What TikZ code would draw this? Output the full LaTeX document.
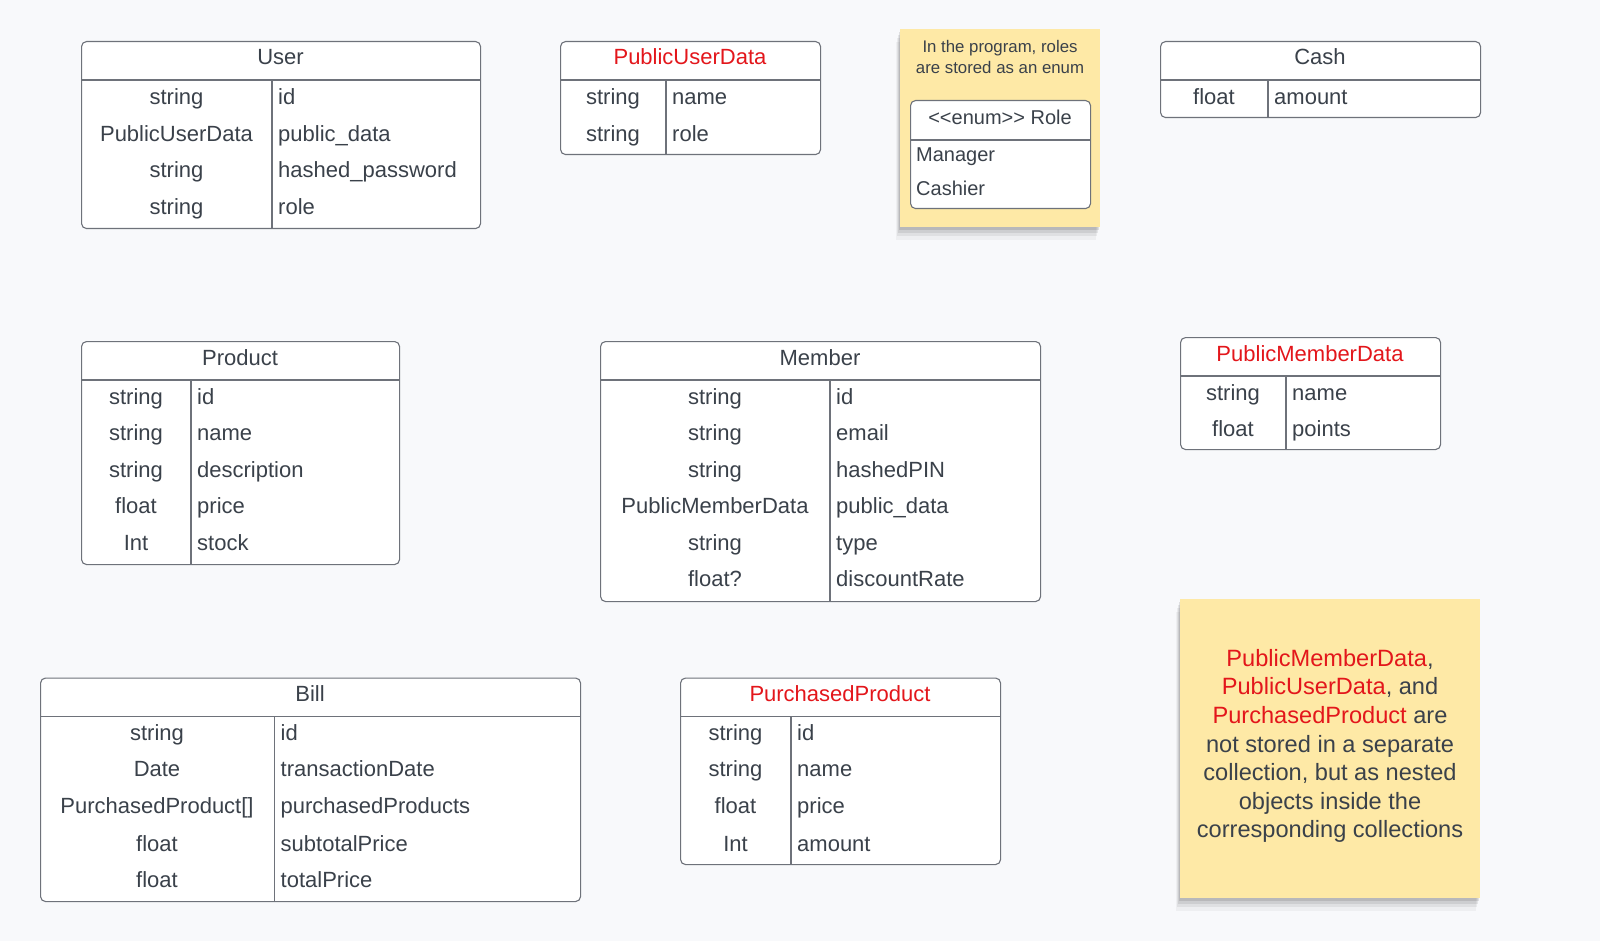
\documentclass[tikz,border=0pt]{standalone}
\usepackage{fontspec}
\usepackage{tikz}
\usetikzlibrary{shadows}
\newfontfamily\lucid{Liberation Sans}
\newcommand{\cellfont}{\lucid\fontsize{22}{26}\selectfont}
\newcommand{\smallnote}{\lucid\fontsize{16.8}{20.4}\selectfont}
\newcommand{\enumfont}{\lucid\fontsize{20}{24}\selectfont}
\newcommand{\bignote}{\lucid\fontsize{23.6}{28.6}\selectfont}
\definecolor{bgcol}{HTML}{F8F9FB}
\definecolor{ink}{HTML}{3A414A}
\definecolor{edge}{HTML}{6E727A}
\definecolor{redtxt}{HTML}{E3161B}
\definecolor{notecol}{HTML}{FEE9A6}
\begin{document}
\begin{tikzpicture}[x=1pt, y=-1pt,
  frame/.style = {draw=edge, fill=white, rounded corners=5pt, line width=1.1pt, anchor=north west, inner sep=0pt},
  rule/.style = {draw=edge, line width=1.1pt},
  title/.style = {anchor=base, font=\cellfont, text=ink, inner sep=0pt},
  ftype/.style = {anchor=base, font=\cellfont, text=ink, inner sep=0pt},
  fname/.style = {anchor=base west, font=\cellfont, text=ink, inner sep=0pt},
  note/.style = {fill=notecol, anchor=north west, inner sep=0pt,
    drop shadow={shadow xshift=-1pt, shadow yshift=-3pt, opacity=.10, fill=black},
    drop shadow={shadow xshift=-2pt, shadow yshift=-6pt, opacity=.08, fill=black},
    drop shadow={shadow xshift=-3pt, shadow yshift=-9pt, opacity=.06, fill=black},
    drop shadow={shadow xshift=-4pt, shadow yshift=-13pt, opacity=.04, fill=black}}]
\path[fill=bgcol, use as bounding box] (0,0) rectangle (1600,941);

\node[frame, minimum width=399pt, minimum height=187pt] (user) at (81,41) {};
\node[title] (userT) at (280.5,65) {User};
\draw[rule] (user.west |- 0,80) -- (user.east |- 0,80);
\draw[rule] (272,80) -- (user.south -| 272,0);
\node[ftype] (user1t) at (176.5,105) {string};
\node[fname] (user1n) at (278,105) {id};
\node[ftype] (user2t) at (176.5,141.5) {PublicUserData};
\node[fname] (user2n) at (278,141.5) {public\_data};
\node[ftype] (user3t) at (176.5,178) {string};
\node[fname] (user3n) at (278,178) {hashed\_password};
\node[ftype] (user4t) at (176.5,214.5) {string};
\node[fname] (user4n) at (278,214.5) {role};

\node[frame, minimum width=260pt, minimum height=113pt] (pud) at (560,41) {};
\node[title, text=redtxt] (pudT) at (690,65) {PublicUserData};
\draw[rule] (pud.west |- 0,80) -- (pud.east |- 0,80);
\draw[rule] (666,80) -- (pud.south -| 666,0);
\node[ftype] (pud1t) at (613,105) {string};
\node[fname] (pud1n) at (672,105) {name};
\node[ftype] (pud2t) at (613,141.5) {string};
\node[fname] (pud2n) at (672,141.5) {role};

\node[note, minimum width=200pt, minimum height=198pt] (roleNote) at (900,28.5) {};
\node[font=\smallnote, text=ink, align=center, inner sep=0pt] (roleText) at (1000,57) {In the program, roles\\are stored as an enum};
\node[frame, minimum width=180pt, minimum height=108pt] (role) at (910,100) {};
\node[title, font=\enumfont] (roleT) at (1000,124.5) {<<enum>> Role};
\draw[rule] (role.west |- 0,140) -- (role.east |- 0,140);
\node[fname, font=\enumfont] (role1) at (916,161.5) {Manager};
\node[fname, font=\enumfont] (role2) at (916,195.5) {Cashier};

\node[frame, minimum width=320pt, minimum height=76pt] (cash) at (1160,41) {};
\node[title] (cashT) at (1320,65) {Cash};
\draw[rule] (cash.west |- 0,80) -- (cash.east |- 0,80);
\draw[rule] (1268,80) -- (cash.south -| 1268,0);
\node[ftype] (cash1t) at (1214,105) {float};
\node[fname] (cash1n) at (1274,105) {amount};

\node[frame, minimum width=318pt, minimum height=223pt] (prod) at (81,341) {};
\node[title] (prodT) at (240,365) {Product};
\draw[rule] (prod.west |- 0,380) -- (prod.east |- 0,380);
\draw[rule] (191,380) -- (prod.south -| 191,0);
\node[ftype] (prod1t) at (136,404) {string};
\node[fname] (prod1n) at (197,404) {id};
\node[ftype] (prod2t) at (136,440.5) {string};
\node[fname] (prod2n) at (197,440.5) {name};
\node[ftype] (prod3t) at (136,477) {string};
\node[fname] (prod3n) at (197,477) {description};
\node[ftype] (prod4t) at (136,513.5) {float};
\node[fname] (prod4n) at (197,513.5) {price};
\node[ftype] (prod5t) at (136,550) {Int};
\node[fname] (prod5n) at (197,550) {stock};

\node[frame, minimum width=440pt, minimum height=260pt] (mem) at (600,341) {};
\node[title] (memT) at (820,365) {Member};
\draw[rule] (mem.west |- 0,380) -- (mem.east |- 0,380);
\draw[rule] (830,380) -- (mem.south -| 830,0);
\node[ftype] (mem1t) at (715,404) {string};
\node[fname] (mem1n) at (836,404) {id};
\node[ftype] (mem2t) at (715,440.5) {string};
\node[fname] (mem2n) at (836,440.5) {email};
\node[ftype] (mem3t) at (715,477) {string};
\node[fname] (mem3n) at (836,477) {hashedPIN};
\node[ftype] (mem4t) at (715,513.5) {PublicMemberData};
\node[fname] (mem4n) at (836,513.5) {public\_data};
\node[ftype] (mem5t) at (715,550) {string};
\node[fname] (mem5n) at (836,550) {type};
\node[ftype] (mem6t) at (715,586.5) {float?};
\node[fname] (mem6n) at (836,586.5) {discountRate};

\node[frame, minimum width=260pt, minimum height=112pt] (pmd) at (1180,337) {};
\node[title, text=redtxt] (pmdT) at (1310,361) {PublicMemberData};
\draw[rule] (pmd.west |- 0,376) -- (pmd.east |- 0,376);
\draw[rule] (1286,376) -- (pmd.south -| 1286,0);
\node[ftype] (pmd1t) at (1233,400) {string};
\node[fname] (pmd1n) at (1292,400) {name};
\node[ftype] (pmd2t) at (1233,436.5) {float};
\node[fname] (pmd2n) at (1292,436.5) {points};

\node[frame, minimum width=540pt, minimum height=223.5pt] (bill) at (40,677.5) {};
\node[title] (billT) at (310,701.5) {Bill};
\draw[rule] (bill.west |- 0,716.5) -- (bill.east |- 0,716.5);
\draw[rule] (274.5,716.5) -- (bill.south -| 274.5,0);
\node[ftype] (bill1t) at (157,740) {string};
\node[fname] (bill1n) at (280.5,740) {id};
\node[ftype] (bill2t) at (157,776.5) {Date};
\node[fname] (bill2n) at (280.5,776.5) {transactionDate};
\node[ftype] (bill3t) at (157,813.5) {PurchasedProduct[]};
\node[fname] (bill3n) at (280.5,813.5) {purchasedProducts};
\node[ftype] (bill4t) at (157,851) {float};
\node[fname] (bill4n) at (280.5,851) {subtotalPrice};
\node[ftype] (bill5t) at (157,887.5) {float};
\node[fname] (bill5n) at (280.5,887.5) {totalPrice};

\node[frame, minimum width=320pt, minimum height=186.5pt] (pp) at (680,677.5) {};
\node[title, text=redtxt] (ppT) at (840,701.5) {PurchasedProduct};
\draw[rule] (pp.west |- 0,716.5) -- (pp.east |- 0,716.5);
\draw[rule] (791,716.5) -- (pp.south -| 791,0);
\node[ftype] (pp1t) at (735.5,740) {string};
\node[fname] (pp1n) at (797,740) {id};
\node[ftype] (pp2t) at (735.5,776.5) {string};
\node[fname] (pp2n) at (797,776.5) {name};
\node[ftype] (pp3t) at (735.5,813.5) {float};
\node[fname] (pp3n) at (797,813.5) {price};
\node[ftype] (pp4t) at (735.5,851) {Int};
\node[fname] (pp4n) at (797,851) {amount};

\node[note, minimum width=300pt, minimum height=299pt] (nestNote) at (1180,599) {};
\node[font=\bignote, text=ink, align=center, inner sep=0pt] (nestText) at (1330,746) {\textcolor{redtxt}{PublicMemberData},\\\textcolor{redtxt}{PublicUserData}, and\\\textcolor{redtxt}{PurchasedProduct} are\\not stored in a separate\\collection, but as nested\\objects inside the\\corresponding collections};
\end{tikzpicture}
\end{document}
